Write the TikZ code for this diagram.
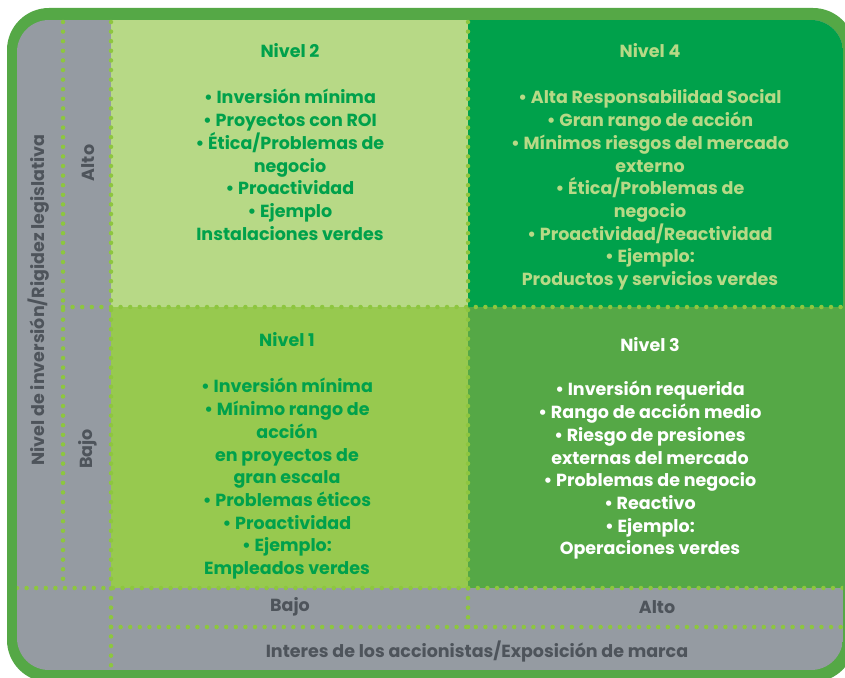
\documentclass[tikz,border=0pt]{standalone}
\usepackage{fontspec}
\setmainfont{Poppins}
\usepackage{xcolor}
\usetikzlibrary{positioning}
\definecolor{mframe}{HTML}{55A846}
\definecolor{mgray}{HTML}{959BA2}
\definecolor{mtext}{HTML}{4E545B}
\definecolor{mpale}{HTML}{B7D986}
\definecolor{mdeep}{HTML}{00A14B}
\definecolor{mlime}{HTML}{97C94F}
\definecolor{mdot}{HTML}{8DC63F}

\begin{document}
\begin{tikzpicture}[x=1pt, y=-1pt,
    quad/.style={font=\fontsize{17.5}{22.7}\selectfont\bfseries, align=center, anchor=north, inner sep=0pt},
    axis/.style={font=\fontsize{17.5}{20}\selectfont\bfseries, text=mtext, inner sep=0pt},
    dots/.style={mdot, line width=4.5pt, line cap=round, dash pattern=on 0pt off 9.6pt}
]
    \useasboundingbox (0,0) rectangle (845,677);
    \clip (0,0) rectangle (845,677);

    % frame and panel
    \fill[mframe, rounded corners=42pt] (7,8) rectangle (855,682);
    \begin{scope}
        \clip[rounded corners=32pt] (17,20) rectangle (843,670);
        \fill[mgray] (17,20) rectangle (843,670);
        \fill[mpale] (111,20) rectangle (468,307);
        \fill[mdeep] (468,20) rectangle (843,307);
        \fill[mlime] (111,307) rectangle (468,588);
        \fill[mframe] (468,307) rectangle (843,588);

        % dotted grid
        \draw[dots] (63,22) -- (63,588);
        \draw[dots] (111,22) -- (111,670);
        \draw[dots] (468,22) -- (468,627);
        \draw[dots] (63,307) -- (843,307);
        \draw[dots] (17,588) -- (843,588);
        \draw[dots] (111,627) -- (843,627);
    \end{scope}

    % quadrants
    \node[quad, text=mdeep] (lvl2) at (290,43) {Nivel 2\\[24pt]
        • Inversión mínima\\
        • Proyectos con ROI\\
        • Ética/Problemas de\\
        negocio\\
        • Proactividad\\
        • Ejemplo\\
        Instalaciones verdes};
    \node[quad, text=mpale] (lvl4) at (650,43) {Nivel 4\\[24pt]
        • Alta Responsabilidad Social\\
        • Gran rango de acción\\
        • Mínimos riesgos del mercado\\
        externo\\
        • Ética/Problemas de\\
        negocio\\
        • Proactividad/Reactividad\\
        • Ejemplo:\\
        Productos y servicios verdes};
    \node[quad, text=mdeep] (lvl1) at (287,332) {Nivel 1\\[24pt]
        • Inversión mínima\\
        • Mínimo rango de\\
        acción\\
        en proyectos de\\
        gran escala\\
        • Problemas éticos\\
        • Proactividad\\
        • Ejemplo:\\
        Empleados verdes};
    \node[quad, text=white] (lvl3) at (650,337) {Nivel 3\\[22pt]
        • Inversión requerida\\
        • Rango de acción medio\\
        • Riesgo de presiones\\
        externas del mercado\\
        • Problemas de negocio\\
        • Reactivo\\
        • Ejemplo:\\
        Operaciones verdes};

    % axes
    \node[axis, rotate=90] (yaxis) at (39,300) {Nivel de inversión/Rigidez legislativa};
    \node[axis, rotate=90] (yhigh) at (88,163) {Alto};
    \node[axis, rotate=90] (ylow) at (88,449) {Bajo};
    \node[axis] (xlow) at (290,607) {Bajo};
    \node[axis] (xhigh) at (657,607) {Alto};
    \node[axis] (xaxis) at (477,652) {Interes de los accionistas/Exposición de marca};
\end{tikzpicture}
\end{document}
